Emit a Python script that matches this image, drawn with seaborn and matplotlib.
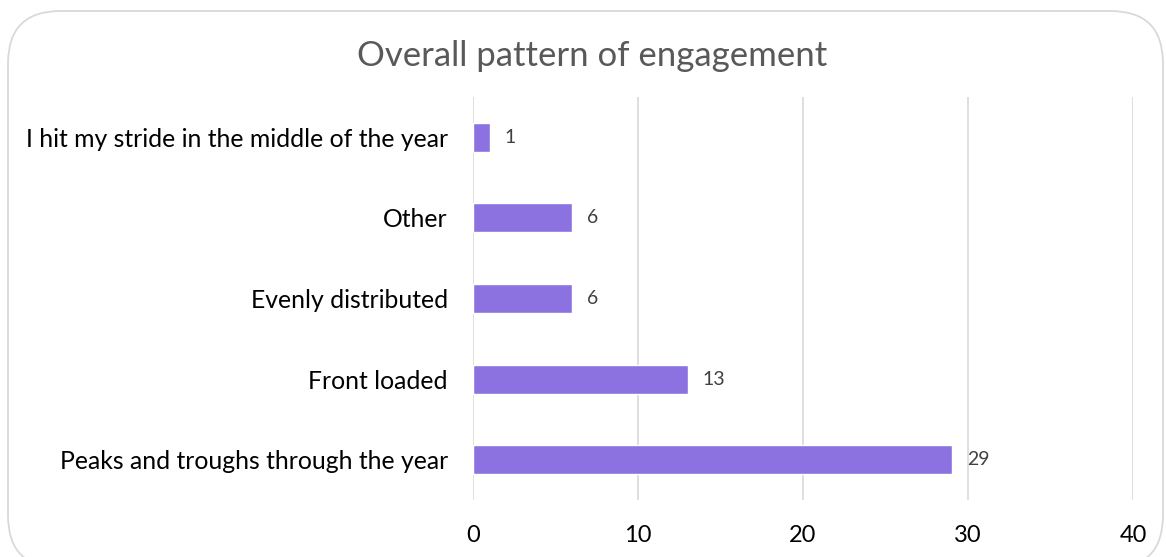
import matplotlib
matplotlib.use("Agg")
import matplotlib.pyplot as plt
from matplotlib.patches import FancyBboxPatch
import seaborn as sns
import pandas as pd

categories = [
    "I hit my stride in the middle of the year",
    "Other",
    "Evenly distributed",
    "Front loaded",
    "Peaks and troughs through the year",
]
counts = [1, 6, 6, 13, 29]
x_ticks = [0, 10, 20, 30, 40]
title = "Overall pattern of engagement"

df = pd.DataFrame({"category": categories, "count": counts})

sns.set_theme(style="white")
plt.rcParams["font.family"] = ["Lato", "DejaVu Sans"]

W, H = 1166, 557
fig = plt.figure(figsize=(W / 100, H / 100), dpi=100)
fig.patch.set_facecolor("white")

# rounded chart-area border (bottom edge runs past the canvas)
border = FancyBboxPatch(
    (8 / W, 1 - 568 / H), (1163 - 8) / W, (568 - 11) / H,
    boxstyle="round,pad=0,rounding_size=0.045",
    transform=fig.transFigure, facecolor="none",
    edgecolor="#D9D9D9", linewidth=1.3, mutation_aspect=W / H,
)
fig.patches.append(border)

ax = fig.add_axes([473 / W, 1 - 500 / H, (1133 - 473) / W, (500 - 97) / H])
sns.barplot(data=df, x="count", y="category", orient="h", color="#8B72E0",
            width=0.36, saturation=1, ax=ax)

ax.set_xlim(0, 40)
ax.set_xticks(x_ticks)
ax.set_xlabel("")
ax.set_ylabel("")
ax.xaxis.grid(True, color="#D9D9D9", linewidth=1.2)
ax.yaxis.grid(False)
ax.set_axisbelow(True)
for s in ax.spines.values():
    s.set_visible(False)
ax.tick_params(axis="x", length=0, pad=18, labelsize=17, labelcolor="#000000")
ax.tick_params(axis="y", length=0, pad=18, labelsize=17.8, labelcolor="#000000")

for cont in ax.containers:
    ax.bar_label(cont, labels=[str(v) for v in counts], padding=11,
                 fontsize=14, color="#404040")

fig.text(592 / W, 1 - 56 / H, title, ha="center", va="center",
         fontsize=25, color="#595959")

fig.savefig("out.png", dpi=100)
